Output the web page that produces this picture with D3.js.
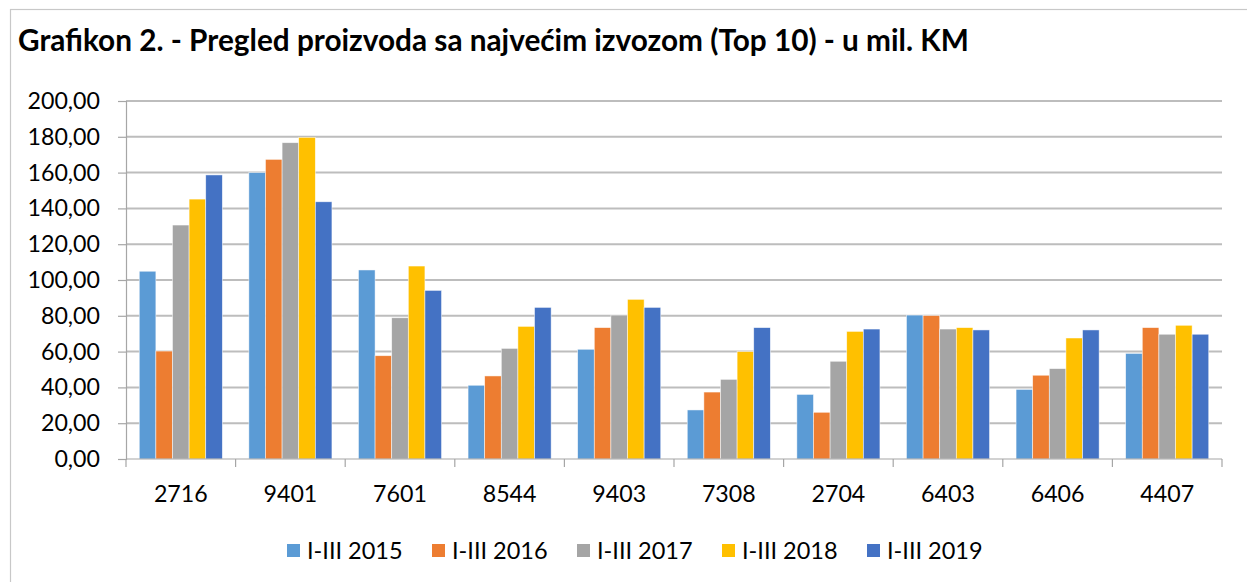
<!DOCTYPE html>
<html>
<head>
<meta charset="utf-8">
<script src="https://cdn.jsdelivr.net/npm/d3@7"></script>
<style>
  body { margin: 0; background: #fff; }
  svg { display: block; font-family: Lato, "Open Sans", sans-serif; }
</style>
</head>
<body>
<div id="chart"></div>
<script>
// Data (u mil. KM)
var categories = ["2716", "9401", "7601", "8544", "9403", "7308", "2704", "6403", "6406", "4407"];
var seriesNames = ["I-III 2015", "I-III 2016", "I-III 2017", "I-III 2018", "I-III 2019"];
var values2015 = [104.9, 160.0, 105.6, 41.2, 61.3, 27.4, 36.1, 80.4, 38.9, 59.0];
var values2016 = [60.3, 167.4, 57.7, 46.4, 73.4, 37.4, 26.1, 80.1, 46.8, 73.4];
var values2017 = [130.7, 176.7, 78.9, 61.8, 80.4, 44.5, 54.6, 72.6, 50.5, 69.7];
var values2018 = [145.2, 179.7, 107.8, 74.1, 89.2, 60.0, 71.3, 73.4, 67.6, 74.7];
var values2019 = [158.7, 143.7, 94.2, 84.7, 84.7, 73.4, 72.6, 72.1, 72.1, 69.7];
var yTicks = [0, 20, 40, 60, 80, 100, 120, 140, 160, 180, 200];
var colors = ["#5B9BD5", "#ED7D31", "#A5A5A5", "#FFC000", "#4472C4"];

var allValues = [values2015, values2016, values2017, values2018, values2019];

var width = 1247, height = 582;
var margin = { top: 101, right: 25, bottom: 123, left: 126 };
var plotW = width - margin.left - margin.right;
var plotH = height - margin.top - margin.bottom;

var svg = d3.select("#chart")
  .append("svg")
  .attr("width", width)
  .attr("height", height);

// Outer chart frame (runs off the right and bottom of the image)
svg.append("rect")
  .attr("x", 10.5)
  .attr("y", 9.5)
  .attr("width", width + 20)
  .attr("height", height + 20)
  .attr("fill", "none")
  .style("stroke", "#c8c8c8")
  .style("stroke-width", 1.2);

// Title
var title = svg.append("text")
  .attr("x", 18)
  .attr("y", 51)
  .style("font-weight", "bold")
  .style("font-size", "27px")
  .attr("fill", "#000")
  .text("Grafikon 2. - Pregled proizvoda sa najvećim izvozom (Top 10) - u mil. KM");
// fit title width to the reference
var tw = title.node().getComputedTextLength();
title.style("font-size", (27 * 951 / tw) + "px");

var g = svg.append("g")
  .attr("transform", "translate(" + margin.left + "," + margin.top + ")");

// Scales
var x0 = d3.scaleBand()
  .domain(categories)
  .range([0, plotW])
  .paddingInner(0.242)
  .paddingOuter(0.121);

var x1 = d3.scaleBand()
  .domain(seriesNames)
  .range([0, x0.bandwidth()]);

var y = d3.scaleLinear()
  .domain([0, 200])
  .range([plotH, 0]);

// Gridlines
g.append("g")
  .attr("class", "grid")
  .selectAll("line")
  .data(yTicks.filter(function(d) { return d > 0; }))
  .enter().append("line")
  .attr("x1", 0)
  .attr("x2", plotW)
  .attr("y1", function(d) { return y(d); })
  .attr("y2", function(d) { return y(d); })
  .style("stroke", "#bdbdbd")
  .style("stroke-width", 2);

// Y axis
var yAxis = d3.axisLeft(y)
  .tickValues(yTicks)
  .tickSize(8)
  .tickPadding(18)
  .tickFormat(function(d) { return d3.format(".2f")(d).replace(".", ","); });

var yg = g.append("g")
  .attr("class", "y-axis")
  .call(yAxis);
yg.select(".domain").style("stroke", "#a6a6a6").style("stroke-width", 1.2);
yg.selectAll(".tick line").style("stroke", "#a6a6a6").style("stroke-width", 1.2);
yg.selectAll("text")
  .style("font-size", "23.2px")
  .style("font-family", "Lato, sans-serif")
  .attr("fill", "#000");

// Bars
var groups = g.selectAll(".cat")
  .data(categories)
  .enter().append("g")
  .attr("class", "cat")
  .attr("transform", function(d) { return "translate(" + x0(d) + ",0)"; });

groups.selectAll("rect")
  .data(function(d, i) {
    return seriesNames.map(function(s, j) {
      return { series: s, value: allValues[j][i], idx: j };
    });
  })
  .enter().append("rect")
  .attr("x", function(d) { return x1(d.series); })
  .attr("y", function(d) { return y(d.value); })
  .attr("width", x1.bandwidth())
  .attr("height", function(d) { return plotH - y(d.value); })
  .attr("fill", function(d) { return colors[d.idx]; })
  .style("stroke", "#fff")
  .style("stroke-width", 0.7)
  .style("stroke-opacity", 0.7);

// X axis line with ticks at category boundaries
var xg = g.append("g")
  .attr("class", "x-axis")
  .attr("transform", "translate(0," + plotH + ")");

xg.append("line")
  .attr("x1", 0)
  .attr("x2", plotW)
  .style("stroke", "#a6a6a6")
  .style("stroke-width", 1.2);

var bounds = d3.range(categories.length + 1).map(function(i) { return i * x0.step(); });
xg.selectAll(".bt")
  .data(bounds)
  .enter().append("line")
  .attr("class", "bt")
  .attr("x1", function(d) { return d; })
  .attr("x2", function(d) { return d; })
  .attr("y1", 0)
  .attr("y2", 8)
  .style("stroke", "#a6a6a6")
  .style("stroke-width", 1.2);

xg.selectAll(".lbl")
  .data(categories)
  .enter().append("text")
  .attr("class", "lbl")
  .attr("x", function(d) { return x0(d) + x0.bandwidth() / 2; })
  .attr("y", 43)
  .attr("text-anchor", "middle")
  .style("font-size", "23.2px")
  .attr("fill", "#000")
  .text(function(d) { return d; });

// Legend
var legend = svg.append("g")
  .attr("class", "legend")
  .attr("transform", "translate(287,544)");

var item = legend.selectAll(".item")
  .data(seriesNames)
  .enter().append("g")
  .attr("class", "item")
  .attr("transform", function(d, i) { return "translate(" + (i * 145) + ",0)"; });

item.append("rect")
  .attr("width", 13)
  .attr("height", 13)
  .attr("fill", function(d, i) { return colors[i]; });

item.append("text")
  .attr("x", 20)
  .attr("y", 15)
  .style("font-size", "23.5px")
  .attr("fill", "#000")
  .text(function(d) { return d; });
</script>
</body>
</html>
